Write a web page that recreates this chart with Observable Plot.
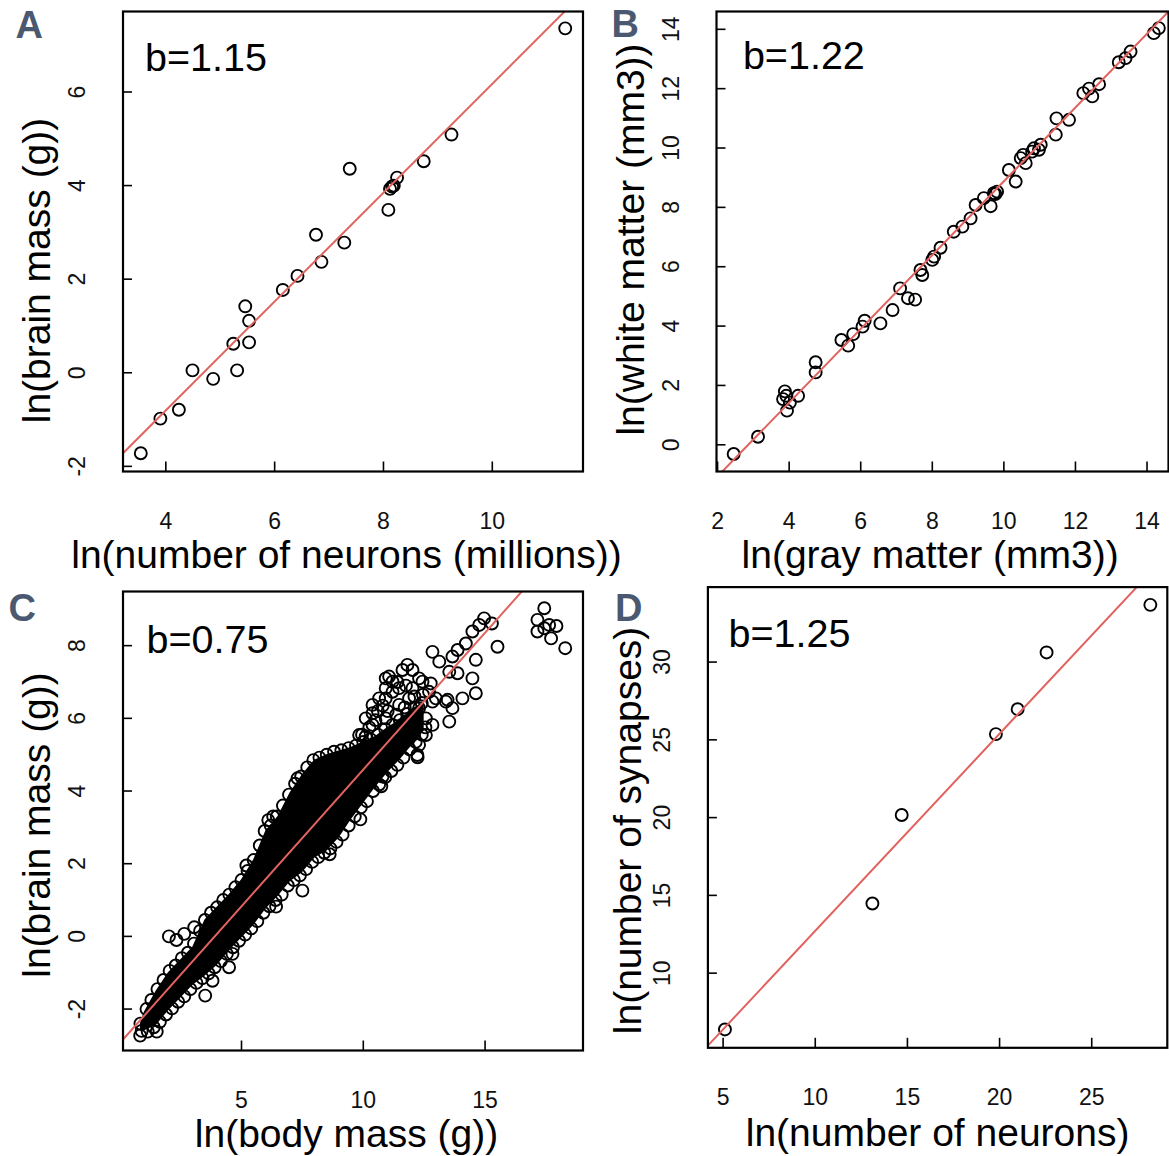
<!DOCTYPE html>
<html>
<head>
<meta charset="utf-8">
<script src="https://cdn.jsdelivr.net/npm/d3@7"></script>
<script src="https://cdn.jsdelivr.net/npm/@observablehq/plot@0.6"></script>
<style>
  html, body { margin: 0; padding: 0; background: #fff; }
  #page { position: relative; width: 1169px; height: 1156px; overflow: hidden; background: #fff; }
  .panel { position: absolute; }
</style>
</head>
<body>
<div id="page"></div>
<script>
// ---------------- DATA ----------------
const panelLetters = ["A", "B", "C", "D"];
const slopeLabels = ["b=1.15", "b=1.22", "b=0.75", "b=1.25"];
const xTitles = ["ln(number of neurons (millions))", "ln(gray matter (mm3))", "ln(body mass (g))", "ln(number of neurons)"];
const yTitles = ["ln(brain mass (g))", "ln(white matter (mm3))", "ln(brain mass (g))", "ln(number of synapses)"];

const xTicksA = [4, 6, 8, 10];
const yTicksA = [-2, 0, 2, 4, 6];
const xTicksB = [2, 4, 6, 8, 10, 12, 14];
const yTicksB = [0, 2, 4, 6, 8, 10, 12, 14];
const xTicksC = [5, 10, 15];
const yTicksC = [-2, 0, 2, 4, 6, 8];
const xTicksD = [5, 10, 15, 20, 25];
const yTicksD = [10, 15, 20, 25, 30];

const xDomainA = [3.213, 11.667], yDomainA = [-2.11, 7.72];
const xDomainB = [1.97, 14.60],   yDomainB = [-0.90, 14.60];
const xDomainC = [0.135, 19.02],  yDomainC = [-3.14, 9.49];
const xDomainD = [4.175, 29.10],  yDomainD = [5.20, 34.82];

// fitted lines (intercept, slope) as drawn
const lineIntercepts = [-5.456, -3.55, -2.94, 0.05];
const lineSlopes = [1.163, 1.243, 0.753, 1.267];

// A: ln(neurons) vs ln(brain mass)
const aPts = [[3.54,-1.72],[3.90,-0.98],[4.24,-0.79],[4.49,0.05],[4.87,-0.13],[5.24,0.62],[5.31,0.05],
  [5.46,1.42],[5.53,1.11],[5.53,0.65],[6.15,1.77],[6.42,2.07],[6.76,2.95],[6.86,2.37],[7.28,2.78],
  [7.38,4.36],[8.09,3.48],[8.12,3.93],[8.16,3.98],[8.19,4.0],[8.25,4.17],[8.74,4.52],[9.25,5.09],[11.34,7.36]];

// B: ln(gray matter) vs ln(white matter)
const bPts = [[2.45,-0.31],[3.13,0.27],[3.83,1.54],[3.88,1.80],[3.92,1.65],[3.94,1.15],[4.02,1.42],[4.25,1.65],
  [4.74,2.78],[4.74,2.44],[5.46,3.53],[5.65,3.34],[5.79,3.73],[6.05,3.98],[6.11,4.18],[6.55,4.09],[6.89,4.54],
  [7.10,5.27],[7.32,4.94],[7.52,4.89],[7.67,5.89],[7.72,5.72],[8.0,6.23],[8.05,6.34],[8.23,6.64],[8.60,7.18],
  [8.84,7.35],[9.07,7.63],[9.21,8.08],[9.44,8.31],[9.63,8.04],[9.72,8.48],[9.76,8.45],[9.81,8.53],[10.14,9.26],
  [10.33,8.87],[10.47,9.66],[10.54,9.77],[10.61,9.49],[10.79,9.88],[10.84,9.99],[10.98,9.94],[11.03,10.11],
  [11.45,10.45],[11.47,11.0],[11.82,10.95],[12.22,11.85],[12.38,12.0],[12.47,11.74],[12.66,12.15],[13.21,12.89],
  [13.40,13.03],[13.54,13.25],[14.19,13.87],[14.33,14.04]];

// C: ln(body mass) vs ln(brain mass) -- dense core envelope (point centres)
const cCoreX  = [0.85, 1.0, 1.5, 2.0, 2.5, 3.0, 3.5, 4.0, 4.5, 5.0, 5.5, 6.0, 6.5, 7.0, 7.5, 8.0, 8.5, 9.0, 9.5, 10.0, 10.5, 11.0, 11.5, 12.0, 12.5];
const cCoreLo = [-2.6,-2.6,-2.45,-2.05,-1.7,-1.35,-1.1,-0.8,-0.4,-0.05,0.3,0.75,1.1,1.5,1.75,2.15,2.35,2.7,3.2,3.65,4.1,4.5,4.85,5.25,5.65];
const cCoreHi = [-2.4,-2.1,-1.5,-1.0,-0.65,-0.3,0.45,0.8,1.15,1.55,2.1,2.9,3.3,3.95,4.45,4.85,5.0,5.1,5.2,5.35,5.5,5.75,5.95,6.25,6.45];
// C: individual circles along the edge of the cloud and outliers
const cPts = [
  // upper edge
  [0.85,-2.4],[1.1,-2.0],[1.3,-1.75],[1.55,-1.45],[1.8,-1.2],[2.05,-0.95],[2.3,-0.8],[2.55,-0.6],[2.8,-0.45],
  [3.05,-0.2],[3.3,0.15],[3.5,0.45],[3.75,0.65],[4.0,0.8],[4.25,1.0],[4.5,1.15],[4.75,1.35],[5.0,1.55],[5.25,1.8],
  [5.5,2.1],[5.75,2.5],[5.95,2.9],[6.2,3.05],[6.45,3.3],[6.7,3.6],[6.95,3.9],[7.2,4.2],[7.45,4.4],[7.7,4.65],
  [7.95,4.85],[8.2,4.92],[8.5,5.0],[8.8,5.08],[9.1,5.12],[9.4,5.18],[9.7,5.25],[10.0,5.35],[10.3,5.42],[10.6,5.55],
  [10.9,5.7],[11.2,5.82],[11.5,5.95],[11.8,6.12],[12.1,6.3],[12.4,6.42],
  // lower edge
  [0.9,-2.6],[1.15,-2.62],[1.4,-2.5],[1.65,-2.35],[1.9,-2.15],[2.15,-1.98],[2.4,-1.8],[2.65,-1.65],[2.9,-1.45],
  [3.15,-1.28],[3.4,-1.15],[3.65,-1.02],[3.9,-0.85],[4.15,-0.68],[4.4,-0.48],[4.65,-0.3],[4.9,-0.12],[5.15,0.05],
  [5.4,0.22],[5.65,0.42],[5.9,0.65],[6.15,0.83],[6.4,1.0],[6.65,1.15],[6.9,1.4],[7.15,1.55],[7.4,1.68],[7.65,1.85],
  [7.9,2.05],[8.15,2.18],[8.4,2.3],[8.65,2.42],[8.9,2.6],[9.15,2.8],[9.4,3.05],[9.65,3.3],[9.9,3.55],[10.15,3.72],
  [10.4,4.0],[10.65,4.18],[10.9,4.38],[11.15,4.55],[11.4,4.72],[11.65,4.92],[11.9,5.15],[12.15,5.35],[12.4,5.55],[12.55,5.75],
  // outliers near the cloud
  [0.84,-2.73],[1.52,-2.62],[2.02,0.0],[2.33,-0.1],[2.65,0.07],[3.06,0.25],[3.51,-1.63],[3.81,-1.22],[4.49,-0.85],
  [4.63,-0.48],[5.2,1.95],[6.1,3.2],[6.3,3.3],[6.42,0.82],[7.3,4.35],[7.5,1.26],[8.62,2.26],[9.88,3.22],
  [10.74,4.13],[10.79,4.40],[12.23,4.93],
  // upper cluster and large-body points
  [9.83,5.54],[9.95,5.55],[10.1,5.5],[10.1,6.0],[10.25,5.75],[10.38,5.82],[10.38,6.14],[10.38,6.37],[10.5,5.95],
  [10.6,6.2],[10.65,6.55],[10.8,6.35],[10.92,6.0],[10.92,6.55],[10.92,6.83],[10.92,7.10],[11.0,6.2],[11.06,7.15],
  [11.2,6.73],[11.2,7.01],[11.35,6.1],[11.4,7.0],[11.47,6.37],[11.47,6.83],[11.61,5.63],[11.61,7.33],[11.7,6.3],
  [11.75,6.9],[11.81,7.47],[11.88,6.55],[12.02,7.33],[12.02,6.83],[12.1,6.6],[12.22,4.99],[12.29,7.10],[12.29,6.28],
  [12.29,5.27],[12.43,7.01],[12.45,6.65],[12.57,6.0],[12.57,5.54],[12.7,6.73],[12.77,6.96],[12.84,7.83],[12.84,6.46],
  [12.84,5.82],[12.98,6.55],[13.12,7.56],[13.39,6.46],[13.46,6.51],[13.53,7.28],[13.53,5.91],[13.66,7.70],[13.66,6.28],
  [13.87,7.88],[13.87,7.24],[14.07,6.55],[14.21,8.06],[14.48,8.39],[14.48,7.10],[14.62,7.61],[14.62,6.69],[14.76,8.57],
  [14.96,8.75],[15.28,8.61],[15.51,7.97],[17.15,8.71],[17.15,8.39],[17.43,9.03],[17.43,8.48],[17.63,8.57],[17.71,8.20],
  [17.93,8.54],[18.29,7.93]
];

// D: ln(neurons) vs ln(synapses)
const dPts = [[5.1,6.38],[13.1,14.48],[14.69,20.17],[19.8,25.37],[20.98,26.97],[22.55,30.62],[28.18,33.68]];

// ---------------- LAYOUT / STYLE ----------------
const FONT = "'Liberation Sans', Arial, Helvetica, sans-serif";
const RED = "#e2625f";
const LETTER_COLOR = "#4b5970";
const TICK_LEN = 9.5;
const TITLE_SIZE = 39;
const TICK_FONT = 23;
const LAYOUT = [
  {left: 0,   top: 0,   width: 584, height: 578, ml: 122.5, mr: 1.5, mt: 11,  mb: 107,   letter: [-107.5, 26], b: [22, 59],     xt: [-6.5, 96],  yt: [-73, 29]},
  {left: 585, top: 0,   width: 584, height: 578, ml: 131,   mr: 1,   mt: 11,  mb: 107,   letter: [-105, 25],   b: [26.4, 57.4], xt: [-12.4, 96], yt: [-72.5, -2]},
  {left: 0,   top: 578, width: 584, height: 578, ml: 122.5, mr: 1.5, mt: 13,  mb: 106,   letter: [-114.5, 29], b: [23.5, 61.7], xt: [-6.5, 96.5], yt: [-72.7, 4]},
  {left: 585, top: 578, width: 584, height: 578, ml: 122.4, mr: 2.2, mt: 8.6, mb: 108.7, letter: [-92.9, 33.4], b: [20.6, 59.4], xt: [0, 98.5],  yt: [-67.4, 13]}
];

const panels = [
  {pts: aPts, core: null, xDomain: xDomainA, yDomain: yDomainA, xTicks: xTicksA, yTicks: yTicksA},
  {pts: bPts, core: null, xDomain: xDomainB, yDomain: yDomainB, xTicks: xTicksB, yTicks: yTicksB},
  {pts: cPts, core: cCoreX.map((x, i) => ({x, lo: cCoreLo[i], hi: cCoreHi[i]})), xDomain: xDomainC, yDomain: yDomainC, xTicks: xTicksC, yTicks: yTicksC},
  {pts: dPts, core: null, xDomain: xDomainD, yDomain: yDomainD, xTicks: xTicksD, yTicks: yTicksD}
];

const page = document.getElementById("page");

panels.forEach((p, i) => {
  const L = LAYOUT[i];
  const pw = L.width - L.ml - L.mr;
  const ph = L.height - L.mt - L.mb;
  const a = lineIntercepts[i], s = lineSlopes[i];
  const marks = [];
  if (p.core) marks.push(Plot.areaY(p.core, {x: "x", y1: "lo", y2: "hi", fill: "#000", curve: "linear"}));
  marks.push(Plot.dot(p.pts, {x: d => d[0], y: d => d[1], r: 6, stroke: "#000", strokeWidth: 1.9, fill: "none"}));
  marks.push(Plot.line(p.xDomain, {x: d => d, y: d => a + s * d, stroke: RED, strokeWidth: 2, clip: true}));
  // inward ticks
  marks.push(Plot.ruleX(p.xTicks, {x: d => d, insetTop: ph - TICK_LEN, stroke: "#000", strokeWidth: 1.6}));
  marks.push(Plot.ruleY(p.yTicks, {y: d => d, insetRight: pw - TICK_LEN, stroke: "#000", strokeWidth: 1.6}));
  // tick labels
  marks.push(Plot.axisX({ticks: p.xTicks, tickSize: 0, tickPadding: 41, fontSize: TICK_FONT, label: null, tickFormat: d => String(d)}));
  marks.push(Plot.axisY({ticks: p.yTicks, tickSize: 0, tickPadding: 38, tickRotate: -90, fontSize: TICK_FONT, label: null, tickFormat: d => String(d)}));
  // frame
  marks.push(Plot.frame({stroke: "#000", strokeWidth: 2.2}));
  // annotations
  marks.push(Plot.text([slopeLabels[i]], {text: d => d, frameAnchor: "top-left", dx: L.b[0], dy: L.b[1], textAnchor: "start", lineAnchor: "bottom", fontSize: 39.5, fill: "#000"}));
  marks.push(Plot.text([xTitles[i]], {text: d => d, frameAnchor: "bottom", dx: L.xt[0], dy: L.xt[1], textAnchor: "middle", lineAnchor: "bottom", fontSize: TITLE_SIZE, fill: "#000"}));
  marks.push(Plot.text([yTitles[i]], {text: d => d, frameAnchor: "left", rotate: -90, dx: L.yt[0], dy: L.yt[1], textAnchor: "middle", lineAnchor: "bottom", fontSize: TITLE_SIZE, fill: "#000"}));
  marks.push(Plot.text([panelLetters[i]], {text: d => d, frameAnchor: "top-left", dx: L.letter[0], dy: L.letter[1], textAnchor: "start", lineAnchor: "bottom", fontSize: 38, fontWeight: "bold", fill: LETTER_COLOR}));

  const chart = Plot.plot({
    width: L.width,
    height: L.height,
    marginLeft: L.ml,
    marginRight: L.mr,
    marginTop: L.mt,
    marginBottom: L.mb,
    x: {domain: p.xDomain, label: null},
    y: {domain: p.yDomain, label: null},
    style: {fontFamily: FONT, fontSize: "23px", color: "#111", background: "transparent", overflow: "visible"},
    marks
  });
  chart.classList.add("panel");
  chart.style.left = L.left + "px";
  chart.style.top = L.top + "px";
  page.appendChild(chart);
});
</script>
</body>
</html>
